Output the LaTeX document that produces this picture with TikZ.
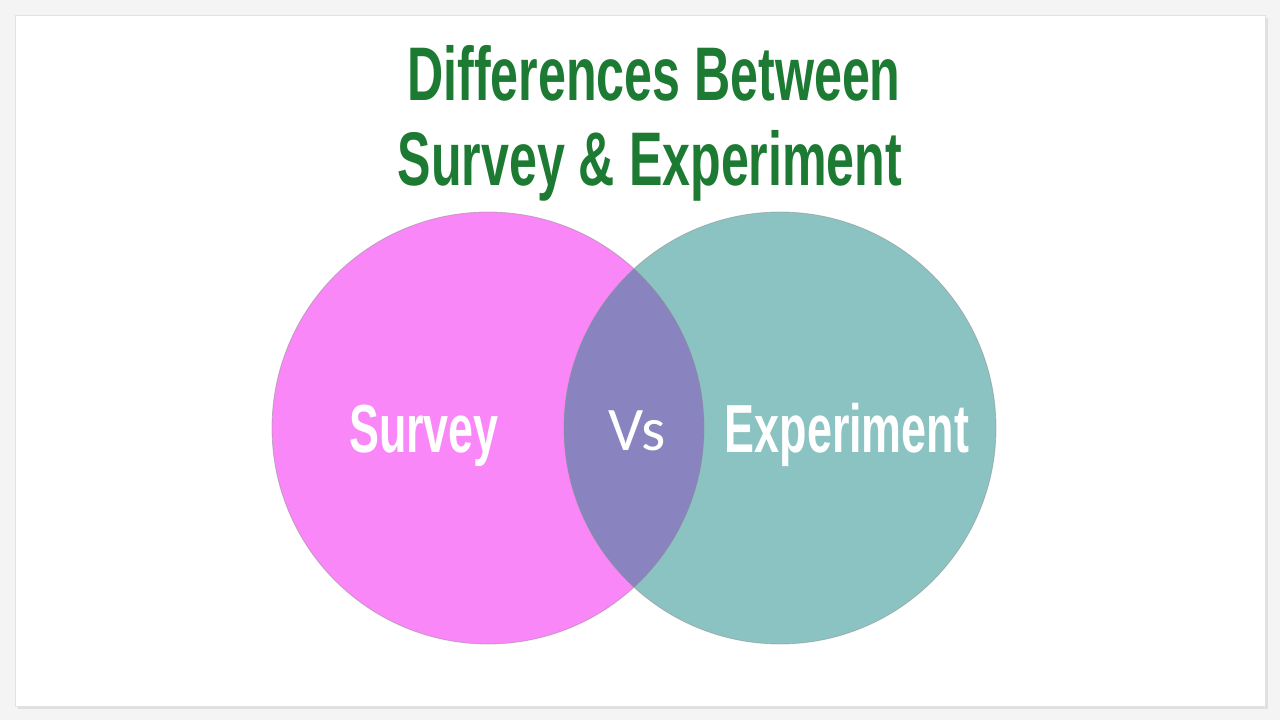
\documentclass[tikz,border=0pt]{standalone}
\usepackage{fontspec}
\setmainfont{Liberation Sans}
\newfontfamily\condfont[FakeStretch=0.66]{Liberation Sans}
\newfontfamily\vsfont{Carlito}
\definecolor{pagegray}{HTML}{F4F4F4}
\definecolor{cardline}{HTML}{E2E2E2}
\definecolor{titlegreen}{HTML}{1C7A33}
\definecolor{surveypink}{HTML}{FA87F8}
\definecolor{experimentteal}{HTML}{8BC3C2}
\definecolor{overlappurple}{HTML}{8984BF}
\tikzset{
	title/.style={text=titlegreen,font=\condfont\bfseries\fontsize{76}{76}\selectfont,anchor=base},
	label/.style={text=white,font=\condfont\bfseries\fontsize{68}{68}\selectfont,anchor=base},
	vslabel/.style={text=white,font=\vsfont\fontsize{62}{62}\selectfont,anchor=base},
	rim/.style={draw=black!45,draw opacity=0.5,line width=0.8pt}
}
\begin{document}
\begin{tikzpicture}[x=1pt,y=-1pt]
			\useasboundingbox (0,0) rectangle (1280,720);
			\fill[pagegray] (0,0) rectangle (1280,720);
			\fill[black!12] (18,18) rectangle (1268,709);
			\fill[white,draw=cardline] (15,15) rectangle (1265,706);
			\fill[surveypink] (488,428) circle (216);
			\fill[experimentteal] (780,428) circle (216);
			\begin{scope}
				\clip (488,428) circle (216);
				\fill[overlappurple] (780,428) circle (216);
			\end{scope}
			\draw[rim] (488,428) circle (216);
			\draw[rim] (780,428) circle (216);
			\node[title] (line1) at(654,100){Differences Between};
			\node[title] (line2) at(650,185){Survey \& Experiment};
			\node[label] (survey) at(424,452){Survey};
			\node[vslabel] (vs) at(637,450){Vs};
			\node[label] (experiment) at(847,452){Experiment};
			\end{tikzpicture}
\end{document}
